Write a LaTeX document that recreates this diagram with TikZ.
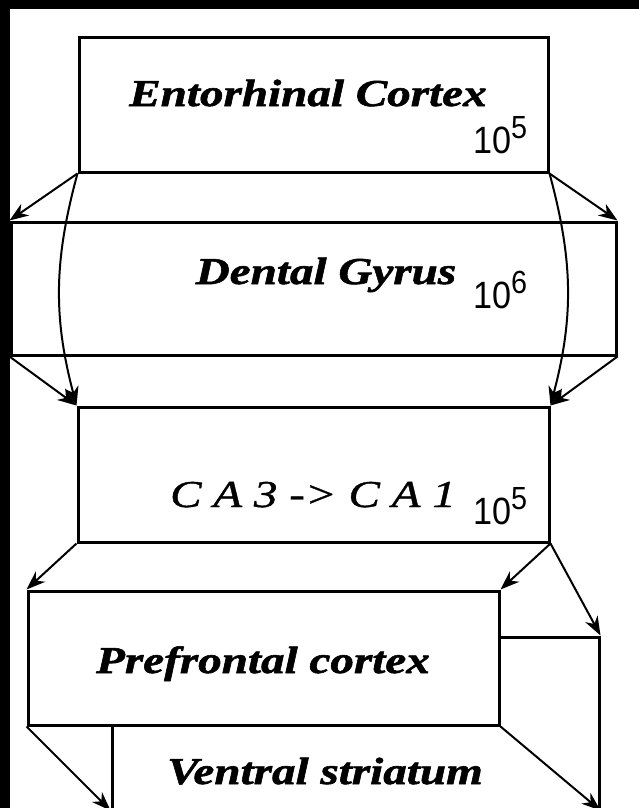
\documentclass[tikz,border=0pt]{standalone}
\usepackage{fontspec}
\usepackage{tikz}
\usetikzlibrary{arrows.meta}
\newfontfamily\regionfont[FakeStretch=1.24,
  BoldItalicFeatures={FakeBold=1.5},ItalicFeatures={FakeBold=1}]{Liberation Serif}
\newfontfamily\countfont[FakeStretch=0.9]{Liberation Sans}
\newcommand{\cellcount}[1]{{\countfont\fontsize{38}{38}\selectfont 10\raisebox{15pt}{\fontsize{32}{32}\selectfont #1}}}
\tikzset{
  region/.style={draw=black,fill=white,line width=3pt,inner sep=0pt},
  regionlabel/.style={font=\regionfont\fontsize{38}{40}\selectfont\bfseries\itshape,
                      inner sep=0pt,anchor=base},
  relaylabel/.style={font=\regionfont\fontsize{38}{40}\selectfont\itshape,
                     inner sep=0pt,anchor=base},
  countlabel/.style={inner sep=0pt,anchor=base west},
  linkarr/.style={-{Stealth[length=19pt,width=14pt,inset=6pt]},line width=2pt}
}
\begin{document}
\begin{tikzpicture}[x=1pt,y=-1pt]
  \useasboundingbox (0,0) rectangle (639,808);
  \clip (0,0) rectangle (639,808);
  \fill[black] (0,0) rectangle (639,808);
  \fill[white] (10,9) rectangle (639,808);
  \node[region,minimum width=469pt,minimum height=134.5pt] (ec) at (313.5,104.75) {};
  \node[region,minimum width=605pt,minimum height=133pt] (dg) at (313.5,288.5) {};
  \node[region,minimum width=471pt,minimum height=135pt] (ca) at (313.5,474.5) {};
  \node[region,minimum width=487pt,minimum height=172pt] (vs) at (355.5,723) {};
  \node[region,minimum width=471pt,minimum height=134pt] (pfc) at (263.5,658) {};
  \node[regionlabel] (ectext) at (308,106) {Entorhinal Cortex};
  \node[countlabel] (eccount) at (473,153) {\cellcount{5}};
  \node[regionlabel] (dgtext) at (326,284) {Dental Gyrus};
  \node[countlabel] (dgcount) at (473,308) {\cellcount{6}};
  \node[relaylabel] (catext) at (313,507) {C A 3 -> C A 1};
  \node[countlabel] (cacount) at (473,524) {\cellcount{5}};
  \node[regionlabel] (pfctext) at (263,673) {Prefrontal cortex};
  \node[regionlabel] (vstext) at (325,784) {Ventral striatum};
  \draw[linkarr] (ec.south west) -- (dg.north west);
  \draw[linkarr] (ec.south east) -- (dg.north east);
  \draw[linkarr] (ec.south west) to[bend right=15] (ca.north west);
  \draw[linkarr] (ec.south east) to[bend left=15] (ca.north east);
  \draw[linkarr] (dg.south west) -- (ca.north west);
  \draw[linkarr] (dg.south east) -- (ca.north east);
  \draw[linkarr] (ca.south west) -- (pfc.north west);
  \draw[linkarr] (ca.south east) -- (pfc.north east);
  \draw[linkarr] (ca.south east) -- (vs.north east);
  \draw[linkarr] (pfc.south west) -- (vs.south west);
  \draw[linkarr] (pfc.south east) -- (vs.south east);
\end{tikzpicture}
\end{document}
